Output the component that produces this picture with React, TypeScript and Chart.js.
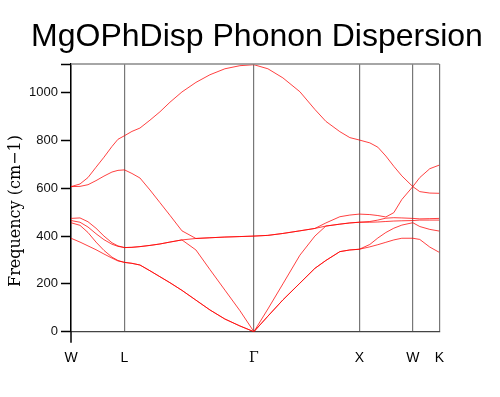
import React, { useEffect, useRef } from "react";
import { Chart, registerables } from "chart.js";

Chart.register(...registerables);

const chartTitle = "MgOPhDisp Phonon Dispersion";
const yAxisTitle = "Frequency (cm\u22121)";

// high-symmetry points along the path
const symLabels = ["W", "L", "\u0393", "X", "W", "K"];
const symPositions = [0, 53.5, 183, 288.5, 342, 368.5];

// path distance of each sampled k-point
const kPath = [
  0, 9, 17, 25, 33, 41, 47, 53.5,
  61, 69, 79, 89, 99, 111, 125, 139, 154, 169, 183,
  197, 212, 229, 244, 255, 269, 279, 288.5,
  299, 307, 315, 323, 331, 342,
  349, 359, 368.5,
];

// band frequencies (cm^-1), sorted per k-point
const band1 = [
  391, 375, 359, 343, 325, 308, 296, 290,
  286, 279, 255, 230, 205, 173, 132, 91, 53, 24, 0,
  65, 133, 203, 265, 298, 335, 342, 345,
  355, 364, 374, 384, 391, 391,
  386, 354, 332,
];
const band2 = [
  456, 445, 415, 375, 340, 312, 298, 290,
  286, 279, 255, 230, 205, 173, 132, 91, 53, 24, 0,
  65, 133, 203, 265, 298, 335, 342, 345,
  365, 392, 415, 433, 446, 456,
  440, 428, 421,
];
const band3 = [
  465, 458, 438, 410, 385, 366, 357, 352,
  353, 356, 361, 367, 375, 384, 342, 260, 174, 88, 0,
  95, 200, 320, 400, 442, 450, 455, 458,
  458, 459, 461, 463, 464, 465,
  467, 467, 467,
];
const band4 = [
  474, 476, 460, 433, 400, 372, 359, 352,
  353, 356, 361, 367, 375, 384, 390, 393, 396, 398, 400,
  403, 411, 422, 432, 442, 450, 455, 458,
  461, 467, 475, 477, 476, 474,
  472, 473, 474,
];
const band5 = [
  607, 608, 615, 632, 651, 668, 675, 677,
  662, 643, 593, 540, 487, 422, 390, 393, 396, 398, 400,
  403, 411, 422, 432, 455, 481, 488, 492,
  490, 486, 480, 498, 553, 607,
  586, 580, 579,
];
const band6 = [
  607, 618, 645, 688, 730, 775, 805, 820,
  838, 852, 885, 920, 960, 1003, 1043, 1075, 1100, 1113, 1117,
  1100, 1062, 1004, 930, 880, 837, 812, 802,
  790, 772, 735, 692, 652, 607,
  645, 682, 697,
];
const bands = [band1, band2, band3, band4, band5, band6];

const yMin = 0;
const yMax = 1120;
const yStep = 200;

const framePlugin = {
  id: "frameAndTitles",
  afterDraw(chart: any) {
    const { ctx, chartArea } = chart;
    const { left, right, top, bottom } = chartArea;
    ctx.save();
    // top frame line
    ctx.strokeStyle = "#888888";
    ctx.lineWidth = 1.5;
    ctx.beginPath();
    ctx.moveTo(left, top);
    ctx.lineTo(right, top);
    ctx.stroke();
    // left axis extension below zero
    ctx.strokeStyle = "#000000";
    ctx.lineWidth = 1.5;
    ctx.beginPath();
    ctx.moveTo(left, bottom);
    ctx.lineTo(left, bottom + 11);
    ctx.stroke();
    // main title
    ctx.fillStyle = "#000000";
    ctx.font = '32px "Liberation Sans", Arial, sans-serif';
    ctx.textAlign = "center";
    ctx.textBaseline = "alphabetic";
    ctx.fillText(chartTitle, 257, 45.5);
    // y axis title
    ctx.translate(20, 211);
    ctx.rotate(-Math.PI / 2);
    ctx.textAlign = "center";
    ctx.font = '16px "DejaVu Serif", serif';
    ctx.fillText(yAxisTitle, 0, 0);
    ctx.restore();
  },
};

export default function App() {
  const canvasRef = useRef<HTMLCanvasElement | null>(null);

  useEffect(() => {
    const canvas = canvasRef.current;
    if (!canvas) return;
    const chart = new Chart(canvas, {
      type: "line",
      data: {
        datasets: bands.map((b, i) => ({
          label: "band " + (i + 1),
          data: kPath.map((k, j) => ({ x: k, y: b[j] })),
          borderColor: "rgba(255,0,0,0.75)",
          borderWidth: 1,
          pointRadius: 0,
          fill: false,
          tension: 0,
        })),
      },
      options: {
        responsive: false,
        animation: false,
        layout: { padding: { top: 64, right: 60.7, left: 0, bottom: 0 } },
        plugins: {
          legend: { display: false },
          tooltip: { enabled: false },
          title: { display: false },
        },
        scales: {
          x: {
            type: "linear",
            min: symPositions[0],
            max: symPositions[symPositions.length - 1],
            afterBuildTicks: (scale: any) => {
              scale.ticks = symPositions.map((v) => ({ value: v }));
            },
            afterFit: (scale: any) => {
              scale.height = 65.3;
            },
            ticks: {
              autoSkip: false,
              maxRotation: 0,
              padding: 18,
              color: "#000000",
              font: (c: any) =>
                c.tick && c.tick.label === "\u0393"
                  ? { family: '"DejaVu Serif", serif', size: 14 }
                  : { family: '"Liberation Sans", Arial, sans-serif', size: 14 },
              callback: (v: any) => {
                const i = symPositions.indexOf(Number(v));
                return i >= 0 ? symLabels[i] : "";
              },
            },
            grid: {
              display: true,
              drawOnChartArea: true,
              drawTicks: false,
              color: "#777777",
              lineWidth: 1.2,
            },
            border: { display: true, color: "#444444", width: 1.2 },
          },
          y: {
            type: "linear",
            min: yMin,
            max: yMax,
            afterFit: (scale: any) => {
              scale.width = 71;
            },
            ticks: {
              stepSize: yStep,
              padding: 3,
              color: "#111111",
              font: { family: '"Liberation Sans", Arial, sans-serif', size: 13 },
              callback: (v: any) => (Number(v) % yStep === 0 ? String(v) : ""),
            },
            grid: {
              display: true,
              drawOnChartArea: false,
              drawTicks: true,
              tickLength: 10,
              tickColor: "#000000",
              tickWidth: 1.5,
            },
            border: { display: true, color: "#000000", width: 1.5 },
          },
        },
      },
      plugins: [framePlugin],
    });
    return () => chart.destroy();
  }, []);

  return (
    <div style={{ position: "absolute", left: 0, top: 0, width: 500, height: 397, background: "#ffffff" }}>
      <canvas ref={canvasRef} width={500} height={397} />
    </div>
  );
}
